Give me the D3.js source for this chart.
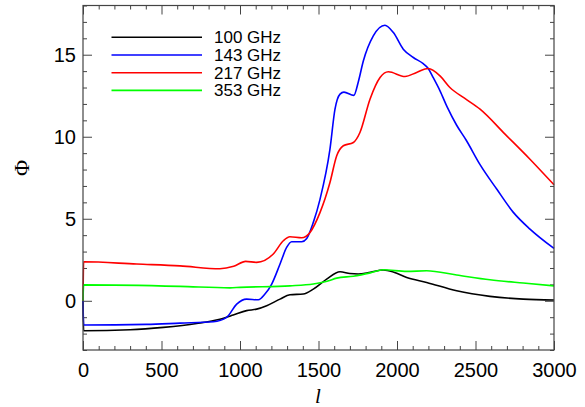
<!DOCTYPE html>
<html>
<head>
<meta charset="utf-8">
<title>Phi vs l</title>
<style>
  body { margin: 0; background: #fff; }
  svg text { font-family: "Liberation Sans", Arial, sans-serif; }
</style>
<script src="https://d3js.org/d3.v7.min.js"></script>
</head>
<body>
<div id="chart"></div>
<script>
// legend labels and line colours
var labels = ["100 GHz", "143 GHz", "217 GHz", "353 GHz"];
var colors = ["#000000", "#0000ff", "#ff0000", "#00ff00"];

// multipole values (l) and Phi values
var l100 = [0, 4, 300, 512, 724, 872, 957, 1042, 1106, 1170, 1255, 1318, 1403, 1467, 1552, 1637, 1700, 1753, 1830, 1913, 1980, 2062, 2189, 2380, 2592, 2804, 3000];
var phi100 = [0, -1.83, -1.77, -1.62, -1.38, -1.12, -0.87, -0.6, -0.51, -0.3, 0.1, 0.37, 0.41, 0.71, 1.32, 1.77, 1.66, 1.63, 1.74, 1.88, 1.74, 1.42, 1.12, 0.61, 0.27, 0.1, 0.05];

var l143 = [0, 4, 405, 618, 830, 915, 979, 1042, 1117, 1159, 1202, 1255, 1297, 1329, 1393, 1425, 1467, 1510, 1573, 1605, 1637, 1662, 1725, 1755, 1785, 1849, 1923, 1977, 2040, 2104, 2167, 2199, 2231, 2274, 2320, 2380, 2440, 2529, 2635, 2741, 2847, 3000];
var phi143 = [0, -1.48, -1.44, -1.36, -1.28, -1.01, -0.2, 0.1, 0.06, 0.41, 1.02, 2.24, 3.25, 3.6, 3.6, 3.8, 4.78, 6.2, 9.24, 11.68, 12.6, 12.72, 12.52, 13.4, 14.6, 16.15, 16.8, 16.35, 15.34, 14.83, 14.45, 14.16, 13.6, 12.8, 11.8, 10.7, 9.8, 8.3, 6.81, 5.39, 4.37, 3.19];

var l217 = [0, 4, 342, 618, 872, 960, 1036, 1106, 1212, 1276, 1318, 1393, 1446, 1510, 1541, 1573, 1616, 1658, 1722, 1764, 1828, 1892, 1945, 2051, 2125, 2199, 2274, 2337, 2430, 2529, 2688, 2847, 3000];
var phi217 = [0, 2.38, 2.24, 2.13, 1.95, 2.1, 2.4, 2.34, 2.85, 3.66, 3.9, 3.84, 4.17, 5.39, 6.2, 7.21, 8.84, 9.45, 9.65, 10.26, 12.29, 13.61, 13.96, 13.67, 13.92, 14.16, 13.71, 13.0, 12.35, 11.68, 10.16, 8.63, 7.07];

var l353 = [0, 4, 618, 936, 1000, 1318, 1467, 1560, 1616, 1722, 1830, 1913, 2062, 2189, 2380, 2592, 2804, 3000];
var phi353 = [0, 0.97, 0.88, 0.79, 0.82, 0.91, 1.02, 1.2, 1.38, 1.5, 1.7, 1.89, 1.79, 1.83, 1.57, 1.28, 1.08, 0.91];

var xTicks = [0, 500, 1000, 1500, 2000, 2500, 3000];
var yTicks = [0, 5, 10, 15];

var series = [
  {l: l100, phi: phi100},
  {l: l143, phi: phi143},
  {l: l217, phi: phi217},
  {l: l353, phi: phi353}
];

// set the dimensions and margins of the graph
var W = 585, H = 407;
var margin = {top: 5.5, right: 31, bottom: 57, left: 83};
var width = W - margin.left - margin.right,
    height = H - margin.top - margin.bottom;

var svg = d3.select("#chart").append("svg")
    .attr("width", W)
    .attr("height", H);

var g = svg.append("g")
    .attr("transform", "translate(" + margin.left + "," + margin.top + ")");

var x = d3.scaleLinear().domain([0, 3000]).range([0, width]);
var y = d3.scaleLinear().domain([-3, 18]).range([height, 0]);

var axisColor = "#444";

// ticks on all four sides: minor every 100 / 1, major at labels
function styleAxis(sel) {
  sel.select(".domain").remove();
  sel.selectAll("line").attr("stroke", axisColor).attr("stroke-width", 1);
}

var xMinor = d3.range(0, 3001, 100).filter(function(v) { return v % 500 != 0; });
var yMinor = d3.range(-3, 19, 1).filter(function(v) { return v % 5 != 0; });

g.append("g").attr("transform", "translate(0," + height + ")")
  .call(d3.axisBottom(x).tickValues(xMinor).tickSize(-4).tickFormat(""))
  .call(styleAxis);
g.append("g").attr("transform", "translate(0," + height + ")")
  .call(d3.axisBottom(x).tickValues(xTicks).tickSize(-9).tickPadding(13).tickFormat(d3.format("d")))
  .call(styleAxis)
  .selectAll("text").attr("font-size", "20px").attr("fill", "#000");
g.append("g")
  .call(d3.axisTop(x).tickValues(xMinor).tickSize(-4).tickFormat(""))
  .call(styleAxis);
g.append("g")
  .call(d3.axisTop(x).tickValues(xTicks).tickSize(-9).tickFormat(""))
  .call(styleAxis);

g.append("g")
  .call(d3.axisLeft(y).tickValues(yMinor).tickSize(-4).tickFormat(""))
  .call(styleAxis);
g.append("g")
  .call(d3.axisLeft(y).tickValues(yTicks).tickSize(-9).tickPadding(7).tickFormat(d3.format("d")))
  .call(styleAxis)
  .selectAll("text").attr("font-size", "20px").attr("fill", "#000");
g.append("g").attr("transform", "translate(" + width + ",0)")
  .call(d3.axisRight(y).tickValues(yMinor).tickSize(-4).tickFormat(""))
  .call(styleAxis);
g.append("g").attr("transform", "translate(" + width + ",0)")
  .call(d3.axisRight(y).tickValues(yTicks).tickSize(-9).tickFormat(""))
  .call(styleAxis);

// the curves
var line = d3.line()
    .x(function(d) { return x(d[0]); })
    .y(function(d) { return y(d[1]); })
    .curve(d3.curveMonotoneX);

series.forEach(function(s, i) {
  var pts = s.l.map(function(v, j) { return [v, s.phi[j]]; });
  g.append("path")
    .datum(pts)
    .attr("fill", "none")
    .attr("stroke", colors[i])
    .attr("stroke-width", 1.6)
    .attr("d", line);
});

// frame
g.append("rect")
  .attr("width", width).attr("height", height)
  .attr("fill", "none")
  .attr("stroke", axisColor)
  .attr("stroke-width", 1.2);

// legend
labels.forEach(function(t, i) {
  var ly = 37.3 + i * 17.7 - margin.top;
  g.append("line")
    .attr("x1", 111.5 - margin.left).attr("x2", 202 - margin.left)
    .attr("y1", ly).attr("y2", ly)
    .attr("stroke", colors[i]).attr("stroke-width", 1.6);
  g.append("text")
    .attr("x", 214 - margin.left).attr("y", ly + 5.8)
    .attr("font-size", "17px")
    .text(t);
});

// axis labels
svg.append("text")
  .attr("transform", "translate(29,168) rotate(-90)")
  .attr("text-anchor", "middle")
  .style("font-family", "'Liberation Serif', 'DejaVu Serif', serif")
  .attr("font-size", "22px")
  .text("Φ");

svg.append("text")
  .attr("x", 318).attr("y", 403)
  .attr("text-anchor", "middle")
  .style("font-family", "'Liberation Serif', 'DejaVu Serif', serif")
  .style("font-style", "italic")
  .attr("font-size", "21px")
  .text("l");
</script>
</body>
</html>
